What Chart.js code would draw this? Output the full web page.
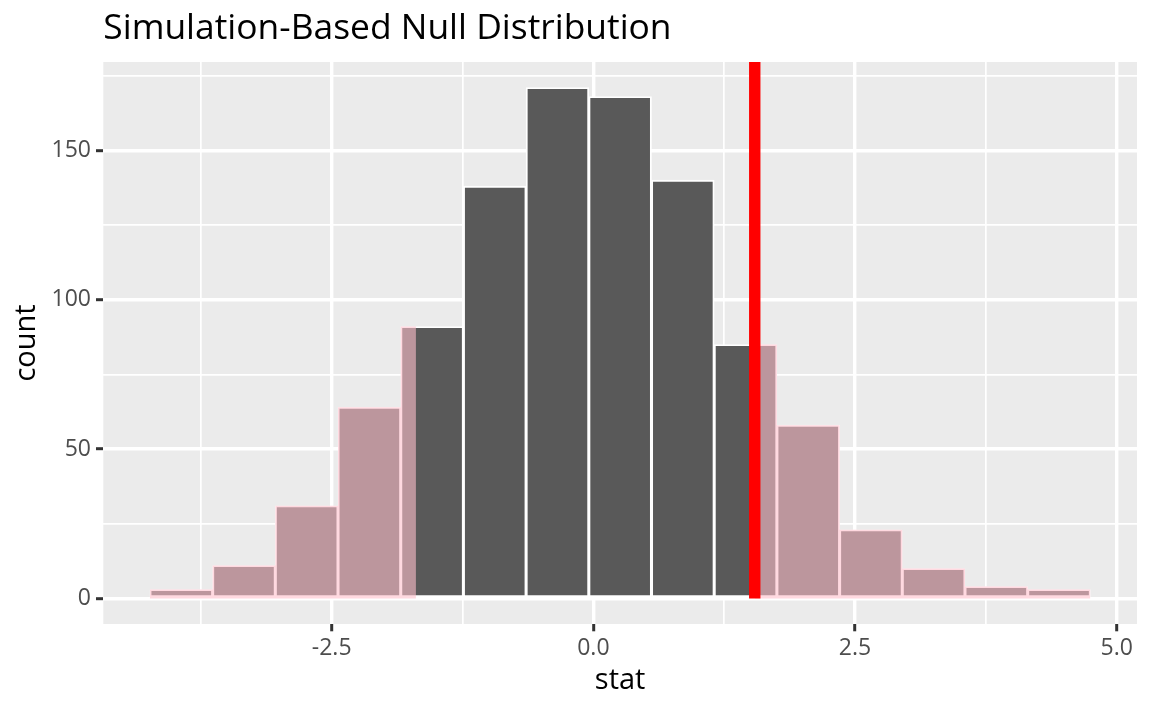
<!DOCTYPE html>
<html>
<head>
<meta charset="utf-8">
<title>Simulation-Based Null Distribution</title>
<script src="https://cdn.jsdelivr.net/npm/chart.js@4/dist/chart.umd.min.js"></script>
<style>
  html, body { margin: 0; padding: 0; background: #ffffff; }
  canvas { display: block; }
</style>
</head>
<body>
<canvas id="nullChart" width="1152" height="711"></canvas>
<script>
// Histogram of the simulated null statistics (15 bins)
const binCenters = [-3.937, -3.338, -2.739, -2.140, -1.541, -0.942, -0.343, 0.256,
                    0.855, 1.454, 2.053, 2.652, 3.251, 3.850, 4.449];
const binWidth = 0.599;
const counts = [3, 11, 31, 64, 91, 138, 171, 168, 140, 85, 58, 23, 10, 4, 3];

// Observed statistic and the two-sided shaded tails
const obsStat = 1.542;
const lowerTailEnd = -1.695;

// Tick labels
const xTickLabels = [-2.5, 0, 2.5, 5];
const yTickLabels = [0, 50, 100, 150];

const titleText = 'Simulation-Based Null Distribution';

// Axis limits (ggplot style 5% expansion around the data)
const xMin = -4.682, xMax = 5.194;
const yMin = -8.55, yMax = 179.55;

Chart.defaults.font.family = '"Open Sans", "Noto Sans", sans-serif';

// Build the step outline of the bars that fall inside [from, to]
function tailSteps(from, to) {
    const pts = [];
    let end = null;
    for (let i = 0; i < binCenters.length; i++) {
        const left = binCenters[i] - binWidth / 2;
        const right = binCenters[i] + binWidth / 2;
        if (right <= from || left >= to) continue;
        pts.push({ x: Math.max(left, from), y: counts[i] });
        end = Math.min(right, to);
    }
    if (end !== null) pts.push({ x: end, y: 0 });
    return pts;
}

function isLabelled(value, list) {
    return list.some(v => Math.abs(v - value) < 1e-6);
}

// Grey panel behind the grid
const panelPlugin = {
    id: 'panel',
    beforeDraw(chart) {
        const { ctx, chartArea } = chart;
        ctx.save();
        ctx.fillStyle = '#EBEBEB';
        ctx.fillRect(chartArea.left, chartArea.top, chartArea.right - chartArea.left, chartArea.bottom - chartArea.top);
        ctx.restore();
    }
};

// Left aligned plot title, like ggplot
const titlePlugin = {
    id: 'plotTitle',
    afterDraw(chart) {
        const ctx = chart.ctx;
        ctx.save();
        ctx.font = '35.4px "Open Sans", "Noto Sans", sans-serif';
        ctx.fillStyle = '#000000';
        ctx.textAlign = 'left';
        ctx.textBaseline = 'alphabetic';
        ctx.fillText(titleText, chart.chartArea.left, 39);
        ctx.restore();
    }
};

const barData = binCenters.map((x, i) => ({ x: x, y: counts[i] }));

const ctx = document.getElementById('nullChart').getContext('2d');
window.nullChart = new Chart(ctx, {
    type: 'bar',
    data: {
        datasets: [
            {
                type: 'line',
                label: 'observed',
                data: [{ x: obsStat, y: 0 }, { x: obsStat, y: yMax }],
                borderColor: '#FF0000',
                borderWidth: 11.4,
                pointRadius: 0,
                fill: false,
                order: 0
            },
            {
                type: 'line',
                label: 'lower tail',
                data: tailSteps(-Infinity, lowerTailEnd),
                stepped: true,
                borderWidth: 0,
                pointRadius: 0,
                backgroundColor: 'rgba(255, 192, 203, 0.6)',
                fill: 'origin',
                order: 1
            },
            {
                type: 'line',
                label: 'upper tail',
                data: tailSteps(obsStat, Infinity),
                stepped: true,
                borderWidth: 0,
                pointRadius: 0,
                backgroundColor: 'rgba(255, 192, 203, 0.6)',
                fill: 'origin',
                order: 1
            },
            {
                type: 'bar',
                label: 'count',
                data: barData,
                backgroundColor: '#595959',
                borderColor: '#FFFFFF',
                borderWidth: 1.85,
                borderSkipped: false,
                categoryPercentage: 1,
                barPercentage: 1,
                order: 2
            }
        ]
    },
    options: {
        responsive: false,
        animation: false,
        events: [],
        layout: {
            padding: { top: 62, right: 15, bottom: 0, left: 0 }
        },
        plugins: {
            legend: { display: false },
            title: { display: false },
            tooltip: { enabled: false }
        },
        scales: {
            x: {
                type: 'linear',
                min: xMin,
                max: xMax,
                offset: false,
                border: { display: false },
                grid: {
                    offset: false,
                    color: '#FFFFFF',
                    lineWidth: c => isLabelled(c.tick.value, xTickLabels) ? 3.4 : 1.7,
                    tickColor: c => isLabelled(c.tick.value, xTickLabels) ? '#333333' : 'rgba(0,0,0,0)',
                    tickWidth: 3,
                    tickLength: 7.3
                },
                ticks: {
                    stepSize: 1.25,
                    includeBounds: false,
                    autoSkip: false,
                    maxRotation: 0,
                    padding: 3,
                    color: '#4D4D4D',
                    font: { size: 23 },
                    callback: v => isLabelled(v, xTickLabels) ? v.toFixed(1) : ''
                },
                title: {
                    display: true,
                    text: 'stat',
                    color: '#000000',
                    font: { size: 29 },
                    padding: { top: 0, bottom: 13 }
                },
                afterFit: scale => { scale.height = 87; }
            },
            y: {
                type: 'linear',
                min: yMin,
                max: yMax,
                border: { display: false },
                grid: {
                    color: '#FFFFFF',
                    lineWidth: c => isLabelled(c.tick.value, yTickLabels) ? 3.4 : 1.7,
                    tickColor: c => isLabelled(c.tick.value, yTickLabels) ? '#333333' : 'rgba(0,0,0,0)',
                    tickWidth: 3,
                    tickLength: 7.3
                },
                ticks: {
                    stepSize: 25,
                    includeBounds: false,
                    autoSkip: false,
                    padding: 5,
                    color: '#4D4D4D',
                    font: { size: 23 },
                    callback: v => isLabelled(v, yTickLabels) ? String(v) : ''
                },
                title: {
                    display: true,
                    text: 'count',
                    color: '#000000',
                    font: { size: 29 },
                    padding: { top: 9, bottom: 0 }
                },
                afterFit: scale => { scale.width = 103.3; }
            }
        }
    },
    plugins: [panelPlugin, titlePlugin]
});
</script>
</body>
</html>
